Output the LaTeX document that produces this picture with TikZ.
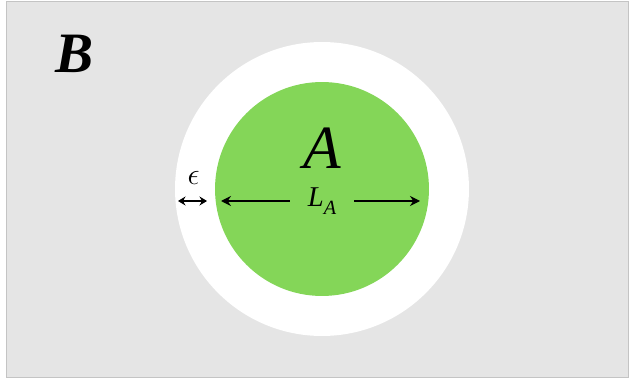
\documentclass[tikz,border=0pt]{standalone}
\usepackage{fontspec}
\setmainfont{Liberation Serif}
\usetikzlibrary{arrows.meta}
\definecolor{regiongray}{RGB}{229,229,229}
\definecolor{framegray}{RGB}{196,196,196}
\definecolor{setgreen}{RGB}{132,214,88}
\tikzstyle{arrow}     = [line width=0.75pt, -{Stealth[length=2mm,width=2mm]}]
\tikzstyle{dblarrow}  = [line width=0.75pt, {Stealth[length=1.5mm,width=1.8mm]}-{Stealth[length=1.5mm,width=1.8mm]}]
\tikzstyle{disc}      = [circle, inner sep=0pt, outer sep=0pt]
\tikzstyle{textplain} = [inner sep=0pt, outer sep=0pt, align=center]

\begin{document}
\begin{tikzpicture}[x=0.02cm, y=-0.02cm]
\useasboundingbox (0,0) rectangle (629,378);

\draw[framegray, fill=regiongray] (6,1) rectangle (628,377);

\node[disc, fill=white, minimum size=5.88cm] (Outer) at (322,189) {};
\node[disc, fill=setgreen, minimum size=4.28cm] (SetA) at (322,189) {};

\node[textplain, font=\fontsize{32.5}{32.5}\selectfont] (LabelB) at (74.5,54) {\textbf{\textit{B}}};
\node[textplain, font=\fontsize{35}{35}\selectfont] (LabelA) at (322,148.5) {\textit{A}};
\node[textplain, font=\fontsize{16.3}{16.3}\selectfont, inner xsep=0.36cm] (LA) at (322,201) {\textit{L}\raisebox{-0.3em}{\fontsize{11.5}{11.5}\selectfont\textit{A}}};
\node[textplain, font=\fontsize{17}{17}\selectfont] (Eps) at (193.5,177.5) {$\epsilon$};

\coordinate (LeftEnd) at (221,201);
\coordinate (RightEnd) at (420,201);
\coordinate (EpsL) at (178,201);
\coordinate (EpsR) at (207,201);

\draw[arrow] (LA) -- (LeftEnd);
\draw[arrow] (LA) -- (RightEnd);
\draw[dblarrow] (EpsL) -- (EpsR);

\end{tikzpicture}
\end{document}
